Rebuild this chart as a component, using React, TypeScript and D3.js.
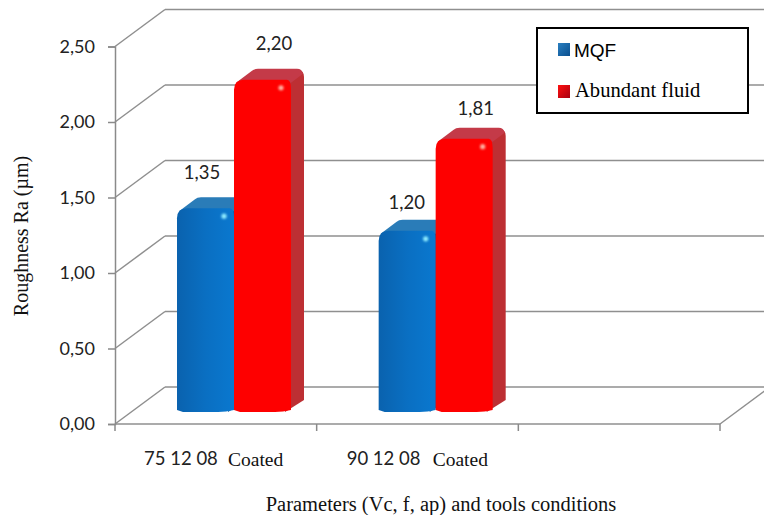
import React, { useEffect, useRef } from 'react'
import * as d3 from 'd3'

const categories = ['75 12 08', '90 12 08', '']
const conditions = ['Coated', 'Coated', '']
const mqfValues = [1.35, 1.2]
const fluidValues = [2.2, 1.81]
const yTicks = [0, 0.5, 1, 1.5, 2, 2.5]

const width = 764
const height = 515
const serif = '"Liberation Serif", serif'
const labelFont = 'Lato, sans-serif'

// depth of the fake 3d box
const wallDx = 50
const wallDy = 37
const baseLift = 12
const barW = 57
const barLeft = 62

// hand placed value labels, like in the original
const labelLift = { mqf: [35, 28], fluid: [36, 30] }
const labelShift = { mqf: [25, 28], fluid: [40, 40] }

const x = d3.scaleBand<string>().domain(categories).range([115, 720])
const y = d3.scaleLinear().domain([0, 2.5]).range([424, 46.5])
const comma = (d: d3.NumberValue) => d3.format('.2f')(d).replace('.', ',')

function barFront(x0: number, top: number, base: number) {
    const p = d3.path()
    const r = 10
    p.moveTo(x0, base - 2)
    p.lineTo(x0, top + r)
    p.quadraticCurveTo(x0, top, x0 + r, top)
    p.lineTo(x0 + barW - 4, top)
    p.quadraticCurveTo(x0 + barW, top, x0 + barW, top + r)
    p.lineTo(x0 + barW, base - 2)
    p.quadraticCurveTo(x0 + barW - 8, base, x0 + barW - 16, base)
    p.lineTo(x0 + 6, base)
    p.closePath()
    return p.toString()
}

function barSide(x0: number, top: number, base: number) {
    const x1 = x0 + barW
    const p = d3.path()
    p.moveTo(x1 - 4, top + 2)
    p.lineTo(x1 + 8, top - 9)
    p.quadraticCurveTo(x1 + 13, top - 9, x1 + 13, top - 3)
    p.lineTo(x1 + 13, base - 12)
    p.lineTo(x1 - 6, base)
    p.closePath()
    return p.toString()
}

function barTop(x0: number, top: number) {
    const x1 = x0 + barW
    const p = d3.path()
    p.moveTo(x0 + 2, top + 3)
    p.lineTo(x0 + 18, top - 9)
    p.quadraticCurveTo(x0 + 20, top - 11, x0 + 24, top - 11)
    p.lineTo(x1 + 6, top - 11)
    p.quadraticCurveTo(x1 + 11, top - 11, x1 + 12, top - 6)
    p.lineTo(x1, top + 3)
    p.closePath()
    return p.toString()
}

function Bar(props: { x0: number, value: number, front: string, side: string, top: string, glow: string }) {
    const { x0, value } = props
    const topY = y(value) - baseLift
    const base = y(0) - baseLift
    return (
        <g>
            <path d={barSide(x0, topY, base)} fill={props.side} />
            <path d={barTop(x0, topY)} fill={props.top} />
            <path d={barFront(x0, topY, base)} fill={props.front} />
            <circle cx={x0 + 47} cy={topY + 8} r={2.6} fill={props.glow} filter="url(#soft)" />
        </g>
    )
}

export default function App() {
    const yAxisRef = useRef<SVGGElement>(null)
    const xAxisRef = useRef<SVGGElement>(null)

    useEffect(() => {
        const yAxis = d3.select(yAxisRef.current!)
            .call(d3.axisLeft(y).tickValues(yTicks).tickSize(7).tickPadding(13).tickFormat(comma) as any)
        yAxis.selectAll('text')
            .attr('font-family', labelFont)
            .attr('font-size', 18)
            .attr('fill', '#222')
        yAxis.selectAll('line,path').attr('stroke', '#8a8a8a').attr('stroke-width', 1.5)

        // x ticks sit on the band edges and not the centers
        const edges = categories.map(c => x(c)!).concat(x.range()[1])
        d3.select(xAxisRef.current!).selectAll('line')
            .data(edges)
            .join('line')
            .attr('x1', d => d)
            .attr('x2', d => d)
            .attr('y1', y(0))
            .attr('y2', y(0) + 7)
            .attr('stroke', '#8a8a8a')
            .attr('stroke-width', 1.5)
    }, [])

    return (
        <svg width={width} height={height} style={{ position: 'absolute', left: 0, top: 0, background: '#fff' }}>
            <defs>
                <linearGradient id="blueFront" x1="0" x2="1" y1="0" y2="0">
                    <stop offset="0" stopColor="#0a62ae" />
                    <stop offset="0.5" stopColor="#0a6fc2" />
                    <stop offset="1" stopColor="#0a78cf" />
                </linearGradient>
                <linearGradient id="legendBlue" x1="0" x2="1" y1="0" y2="1">
                    <stop offset="0" stopColor="#2a7fc0" />
                    <stop offset="1" stopColor="#0a4f8f" />
                </linearGradient>
                <linearGradient id="legendRed" x1="0" x2="1" y1="0" y2="1">
                    <stop offset="0" stopColor="#ff1010" />
                    <stop offset="1" stopColor="#a80010" />
                </linearGradient>
                <filter id="soft" x="-100%" y="-100%" width="300%" height="300%">
                    <feGaussianBlur stdDeviation="0.8" />
                </filter>
            </defs>

            {/* walls */}
            <g stroke="#8f8f8f" strokeWidth={1.5} fill="none">
                {yTicks.map(t => (
                    <g key={t}>
                        <line x1={x.range()[0]} y1={y(t)} x2={x.range()[0] + wallDx} y2={y(t) - wallDy} />
                        <line x1={x.range()[0] + wallDx} y1={y(t) - wallDy} x2={width} y2={y(t) - wallDy} />
                    </g>
                ))}
                <line x1={x.range()[1]} y1={y(0)} x2={x.range()[1] + wallDx} y2={y(0) - wallDy} />
                <line x1={x.range()[0]} y1={y(0)} x2={x.range()[1]} y2={y(0)} />
            </g>

            <g ref={yAxisRef} transform={`translate(${x.range()[0]},0)`} />
            <g ref={xAxisRef} />

            {/* bars */}
            {mqfValues.map((v, i) => (
                <Bar key={i} x0={x(categories[i])! + barLeft} value={v}
                    front="url(#blueFront)" side="#0a5a9e" top="#2a7cb8" glow="#8fecff" />
            ))}
            {fluidValues.map((v, i) => (
                <Bar key={i} x0={x(categories[i])! + barLeft + barW} value={v}
                    front="#fe0000" side="#bd2f33" top="#c43a48" glow="#ffb0a0" />
            ))}

            {/* value labels */}
            <g fontFamily={labelFont} fontSize={18.5} fill="#222" textAnchor="middle">
                {mqfValues.map((v, i) => (
                    <text key={i} x={x(categories[i])! + barLeft + labelShift.mqf[i]}
                        y={y(v) - baseLift - labelLift.mqf[i] + 6}>
                        {comma(v)}
                    </text>
                ))}
                {fluidValues.map((v, i) => (
                    <text key={i} x={x(categories[i])! + barLeft + barW + labelShift.fluid[i]}
                        y={y(v) - baseLift - labelLift.fluid[i] + 6}>
                        {comma(v)}
                    </text>
                ))}
            </g>

            {/* category labels */}
            {categories.filter(c => c).map((c, i) => (
                <g key={c} transform={`translate(${x(c)!},0)`}>
                    <text x={29 + i} y={465} fontFamily={labelFont} fontSize={18.5} fill="#222">{c}</text>
                    <text x={113 + i * 3} y={466} fontFamily={serif} fontSize={19.5} fill="#111">{conditions[i]}</text>
                </g>
            ))}

            {/* axis titles */}
            <text x={441} y={511} textAnchor="middle" fontFamily={serif} fontSize={20.5} fill="#111">
                Parameters (Vc, f, ap) and tools conditions
            </text>
            <text transform="translate(28,236) rotate(-90)" textAnchor="middle" fontFamily={serif} fontSize={20} fill="#111">
                Roughness Ra (µm)
            </text>

            {/* legend */}
            <rect x={537} y={28} width={211} height={85} fill="#fff" stroke="#000" strokeWidth={2} />
            <rect x={558} y={43} width={12} height={13} fill="url(#legendBlue)" />
            <rect x={558} y={85} width={12} height={13} fill="url(#legendRed)" />
            <text x={574} y={57} fontFamily='"Liberation Sans", sans-serif' fontSize={19} fill="#000">MQF</text>
            <text x={575} y={97} fontFamily={serif} fontSize={20.6} fill="#000">Abundant fluid</text>
        </svg>
    )
}
